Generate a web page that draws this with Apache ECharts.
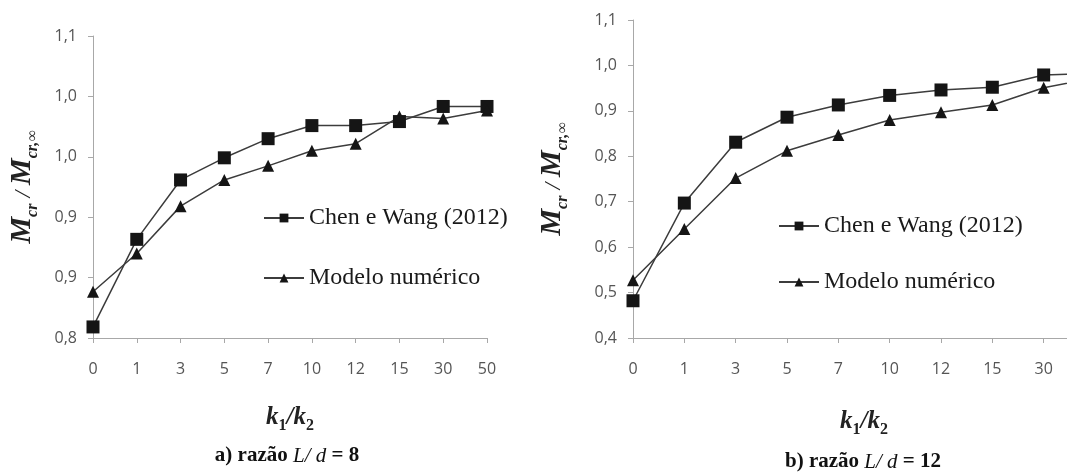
<!DOCTYPE html>
<html>
<head>
<meta charset="utf-8">
<style>
html,body{margin:0;padding:0;background:#fff;}
#chart{width:1067px;height:473px;}
</style>
<script src="https://cdn.jsdelivr.net/npm/echarts@6/dist/echarts.min.js"></script>
</head>
<body>
<div id="chart"></div>
<script>
// ---- data ----
const categories = ['0', '1', '3', '5', '7', '10', '12', '15', '30', '50'];
const chenA  = [0.811, 0.898, 0.957, 0.979, 0.998, 1.011, 1.011, 1.015, 1.030, 1.030];
const modelA = [0.846, 0.884, 0.931, 0.957, 0.971, 0.986, 0.993, 1.020, 1.018, 1.026];
const chenB  = [0.482, 0.697, 0.831, 0.886, 0.913, 0.934, 0.946, 0.952, 0.979, 0.983];
const modelB = [0.527, 0.640, 0.752, 0.812, 0.847, 0.880, 0.897, 0.913, 0.951, 0.972];
const yTicksA = [0.80, 0.86, 0.92, 0.98, 1.04, 1.10];
const yTicksB = [0.4, 0.5, 0.6, 0.7, 0.8, 0.9, 1.0, 1.1];
const seriesNames = ['Chen e Wang (2012)', 'Modelo numérico'];
const captionA = 'a) razão ';
const captionB = 'b) razão ';

const fmt = v => v.toFixed(1).replace('.', ',');
const serif = 'Liberation Serif';
const sans = 'Open Sans';
const axisColor = '#a8a8a8';
const labelColor = '#555';

const yNameRich = {
  m: {fontFamily: serif, fontSize: 30, fontWeight: 'bold', fontStyle: 'italic', color: '#222', verticalAlign: 'bottom', padding: [0,0,4,0]},
  s: {fontFamily: serif, fontSize: 16, fontWeight: 'bold', fontStyle: 'italic', color: '#222', verticalAlign: 'bottom', lineHeight: 16},
  n: {fontFamily: serif, fontSize: 24, fontStyle: 'italic', color: '#222', verticalAlign: 'bottom', padding: [0,0,5,0]}
};
const xNameRich = {
  k: {fontFamily: serif, fontSize: 25, fontWeight: 'bold', fontStyle: 'italic', color: '#222', verticalAlign: 'bottom', padding: [0,0,4,0]},
  s: {fontFamily: serif, fontSize: 16, fontWeight: 'bold', color: '#222', verticalAlign: 'bottom', lineHeight: 16}
};
const yName = '{m|M}{s|cr}{n| / }{m|M}{s|cr,∞}';
const xName = '{k|k}{s|1}{k|/k}{s|2}';

function xAxis(gridIndex, gap) {
  return {
    type: 'category', gridIndex, data: categories, boundaryGap: false,
    axisLine: {lineStyle: {color: axisColor, width: 1}},
    axisTick: {show: true, length: 5, lineStyle: {color: axisColor}},
    axisLabel: {fontFamily: sans, fontSize: 16, color: labelColor, margin: 23, interval: 0},
    splitLine: {show: false},
    name: xName, nameLocation: 'middle', nameGap: gap,
    nameTextStyle: {rich: xNameRich}
  };
}
function yAxis(gridIndex, min, max, ticks, gap) {
  return {
    type: 'value', gridIndex, min, max,
    axisLine: {show: true, lineStyle: {color: axisColor, width: 1}},
    axisTick: {show: true, length: 5, lineStyle: {color: axisColor}, customValues: ticks},
    axisLabel: {fontFamily: sans, fontSize: 16, color: labelColor, margin: 16, customValues: ticks, formatter: fmt},
    splitLine: {show: false},
    name: yName, nameLocation: 'middle', nameRotate: 90, nameGap: gap,
    nameTextStyle: {rich: yNameRich}
  };
}
function line(name, data, idx, symbol, size) {
  return {
    name, type: 'line', data, xAxisIndex: idx, yAxisIndex: idx,
    symbol, symbolSize: size, showAllSymbol: true,
    lineStyle: {color: '#3c3c3c', width: 1.5},
    itemStyle: {color: '#151515'},
    emphasis: {disabled: true}
  };
}
function legend(left, top, gap) {
  return {
    left, top, orient: 'vertical', itemGap: gap, itemWidth: 40, itemHeight: 11,
    data: seriesNames, selectedMode: false,
    textStyle: {fontFamily: serif, fontSize: 24, color: '#1a1a1a', lineHeight: 24}
  };
}
const captionRich = {
  b: {fontFamily: serif, fontSize: 21, fontWeight: 'bold', fill: '#111'},
  i: {fontFamily: serif, fontSize: 21, fontStyle: 'italic', fill: '#111'}
};

const chart = echarts.init(document.getElementById('chart'), null, {renderer: 'canvas'});
chart.setOption({
  animation: false,
  backgroundColor: '#fff',
  grid: [
    {left: 93, top: 36, width: 394, height: 302, outerBoundsMode: 'none', containLabel: false},
    {left: 633, top: 20, width: 462, height: 318, outerBoundsMode: 'none', containLabel: false}
  ],
  xAxis: [xAxis(0, 67), xAxis(1, 71)],
  yAxis: [yAxis(0, 0.8, 1.1, yTicksA, 52), yAxis(1, 0.4, 1.1, yTicksB, 62)],
  legend: [legend(258, 201, 36), legend(773, 209, 32)],
  series: [
    line(seriesNames[0], chenA, 0, 'rect', 13),
    line(seriesNames[1], modelA, 0, 'triangle', 12),
    line(seriesNames[0], chenB, 1, 'rect', 13),
    line(seriesNames[1], modelB, 1, 'triangle', 12)
  ],
  graphic: [
    {type: 'text', x: 287, y: 456, style: {text: '{b|' + captionA + '}{i|L/ d}{b| = 8}', rich: captionRich, align: 'center', verticalAlign: 'middle'}},
    {type: 'text', x: 863, y: 462, style: {text: '{b|' + captionB + '}{i|L/ d}{b| = 12}', rich: captionRich, align: 'center', verticalAlign: 'middle'}}
  ]
});
</script>
</body>
</html>
